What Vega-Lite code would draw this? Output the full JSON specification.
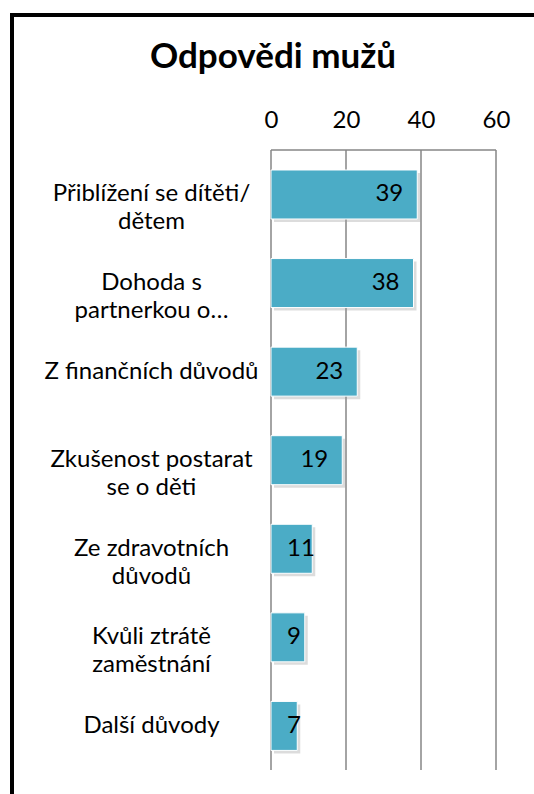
{
  "$schema": "https://vega.github.io/schema/vega-lite/v6.json",
  "autosize": "none",
  "padding": {"left": 12, "top": 15, "right": -30, "bottom": -30},
  "width": 552,
  "height": 809,
  "background": "white",
  "config": {
    "view": {"stroke": "black", "strokeWidth": 4},
    "font": "Lato"
  },
  "title": {
    "text": "Odpovědi mužů",
    "font": "Lato",
    "fontSize": 35,
    "fontWeight": "bold",
    "color": "black",
    "anchor": "middle",
    "frame": "group",
    "dx": -15,
    "offset": -60
  },
  "datasets": {
    "bars": [
      {"cat": "Přiblížení se  dítěti/|dětem", "value": 39},
      {"cat": "Dohoda s|partnerkou o…", "value": 38},
      {"cat": "Z finančních důvodů", "value": 23},
      {"cat": "Zkušenost postarat|se o děti", "value": 19},
      {"cat": "Ze zdravotních|důvodů", "value": 11},
      {"cat": "Kvůli ztrátě|zaměstnání", "value": 9},
      {"cat": "Další důvody", "value": 7}
    ],
    "grid": [{"g": 0}, {"g": 20}, {"g": 40}, {"g": 60}]
  },
  "resolve": {"scale": {"y": "independent"}},
  "layer": [
    {
      "layer": [
        {
          "data": {"name": "grid"},
          "mark": {"type": "rule", "color": "#868686", "strokeWidth": 1.5},
          "encoding": {
            "x": {"field": "g", "type": "quantitative",
                  "scale": {"domain": [-69.067, 78.133], "nice": false, "zero": false},
                  "axis": {"orient": "top", "values": [0, 20, 40, 60], "grid": false, "domain": false, "ticks": false, "tickSize": 0,
                           "labelPadding": 0, "offset": -112, "labelBaseline": "alphabetic", "labelFontSize": 24, "labelColor": "black", "labelFont": "Lato", "title": null}},
            "y": {"datum": 0, "type": "quantitative",
                  "scale": {"domain": [-0.0871, 1.2177], "nice": false, "zero": false},
                  "axis": null},
            "y2": {"datum": 1}
          }
        },
        {
          "data": {"name": "grid"},
          "transform": [{"filter": "datum.g == 0"}],
          "mark": {"type": "rule", "color": "#868686", "strokeWidth": 1.5},
          "encoding": {
            "x": {"datum": 0, "type": "quantitative"},
            "x2": {"datum": 60},
            "y": {"datum": 1, "type": "quantitative"}
          }
        }
      ]
    },
    {
      "data": {"name": "bars"},
      "encoding": {
        "y": {"field": "cat", "type": "nominal", "sort": null,
              "scale": {"domain": ["", "Přiblížení se  dítěti/|dětem", "Dohoda s|partnerkou o…", "Z finančních důvodů", "Zkušenost postarat|se o děti", "Ze zdravotních|důvodů", "Kvůli ztrátě|zaměstnání", "Další důvody"],
                        "paddingInner": 0.4468, "paddingOuter": 0.79035, "align": 0.4744},
              "axis": {"orient": "left", "offset": -259, "domain": false, "ticks": false, "tickSize": 0,
                       "labelPadding": 120, "labelAlign": "center", "labelBaseline": "middle",
                       "labelExpr": "split(datum.label, '|')", "labelLineHeight": 28,
                       "labelFontSize": 24, "labelFont": "Lato", "labelColor": "black", "labelLimit": 400, "title": null}}
      },
      "layer": [
        {
          "mark": {"type": "bar", "color": "#9a9a9a", "opacity": 0.35, "xOffset": 3, "x2Offset": 3, "yOffset": 3, "y2Offset": 3},
          "encoding": {"x": {"field": "value", "type": "quantitative"}}
        },
        {
          "mark": {"type": "bar", "color": "#4BACC6", "stroke": "white", "strokeWidth": 1},
          "encoding": {"x": {"field": "value", "type": "quantitative"}}
        },
        {
          "transform": [{"filter": "datum.value >= 15"}],
          "mark": {"type": "text", "align": "right", "baseline": "middle", "dx": -14, "fontSize": 24, "font": "Lato", "color": "black"},
          "encoding": {"x": {"field": "value", "type": "quantitative"}, "text": {"field": "value", "type": "quantitative"}}
        },
        {
          "transform": [{"filter": "datum.value < 15"}],
          "mark": {"type": "text", "align": "left", "baseline": "middle", "dx": 16, "fontSize": 24, "font": "Lato", "color": "black"},
          "encoding": {"x": {"datum": 0, "type": "quantitative"}, "text": {"field": "value", "type": "quantitative"}}
        }
      ]
    }
  ]
}
